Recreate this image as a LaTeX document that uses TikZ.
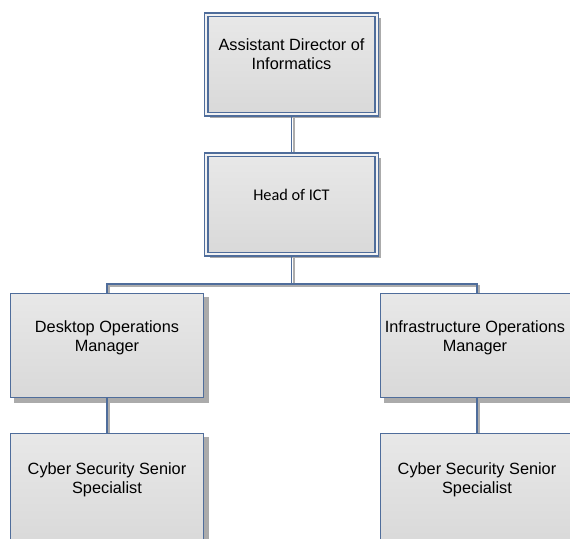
\documentclass[tikz,border=0pt]{standalone}
\usepackage{fontspec}
\setmainfont{Liberation Sans}
\newfontfamily\calibrifont{Carlito}
\usetikzlibrary{backgrounds}
\definecolor{boxblue}{HTML}{4F6D9B}
\definecolor{shadowgray}{HTML}{ABABAB}
\begin{document}
\begin{tikzpicture}[x=1pt,y=-1pt,
  orgbox/.style={draw=boxblue, line width=1.2pt, top color=black!9, bottom color=black!15,
    inner sep=0pt, minimum width=192.8pt, minimum height=103.8pt},
  dblbox/.style={orgbox, line width=1.4pt, double=black!5, double distance=2.2pt,
    minimum width=170.5pt, minimum height=99.5pt},
  lbl/.style={anchor=north, inner sep=0pt, align=center, font=\fontsize{16.3}{19}\selectfont},
  conn/.style={draw=boxblue, line width=1.2pt},
  connshadow/.style={draw=black!32, line width=2.4pt, transform canvas={shift={(2.2pt,-2.2pt)}}},
  boxshadow/.style={fill=shadowgray}]
\useasboundingbox (0,0) rectangle (570,538);
\clip (0,0) rectangle (570,538);
% boxes
\node[dblbox] (A) at (291.5,64.5) {};
\node[dblbox] (B) at (291.5,204.5) {};
\node[orgbox] (C) at (107,345.5) {};
\node[orgbox] (D) at (477,345.5) {};
\node[orgbox, minimum height=112pt] (E) at (107,489.6) {};
\node[orgbox, minimum height=112pt] (F) at (477,489.6) {};
% texts
\node[lbl] (tA) at (291.5,38) {Assistant Director of\\Informatics};
\node[lbl, font=\calibrifont\fontsize{16.3}{19}\selectfont] (tB) at (291.5,189) {Head of ICT};
\node[lbl] (tC) at (107,320) {Desktop Operations\\Manager};
\node[lbl] (tD) at (475,320) {Infrastructure Operations\\Manager};
\node[lbl] (tE) at (107,462) {Cyber Security Senior\\Specialist};
\node[lbl] (tF) at (477,462) {Cyber Security Senior\\Specialist};
% shadows and connectors
\coordinate (bus) at (292,284);
\begin{scope}[on background layer]
  \foreach \b/\e in {A/3.5pt, B/3.5pt, C/5pt, D/5pt, E/5pt, F/5pt}{
    \fill[boxshadow] ([shift={(4pt,-4pt)}]\b.north west) rectangle ([shift={(\e,-\e)}]\b.south east);
  }
  \draw[connshadow] (A.south) -- (B.north);
  \draw[connshadow] (B.south) -- (B.south |- bus);
  \draw[connshadow] (C.north) -- (C.north |- bus) -- (D.north |- bus) -- (D.north);
  \draw[connshadow] (C.south) -- (E.north);
  \draw[connshadow] (D.south) -- (F.north);
  \draw[conn] (A.south) -- (B.north);
  \draw[conn] (B.south) -- (B.south |- bus);
  \draw[conn] (C.north) -- (C.north |- bus) -- (D.north |- bus) -- (D.north);
  \draw[conn] (C.south) -- (E.north);
  \draw[conn] (D.south) -- (F.north);
\end{scope}
\end{tikzpicture}
\end{document}
